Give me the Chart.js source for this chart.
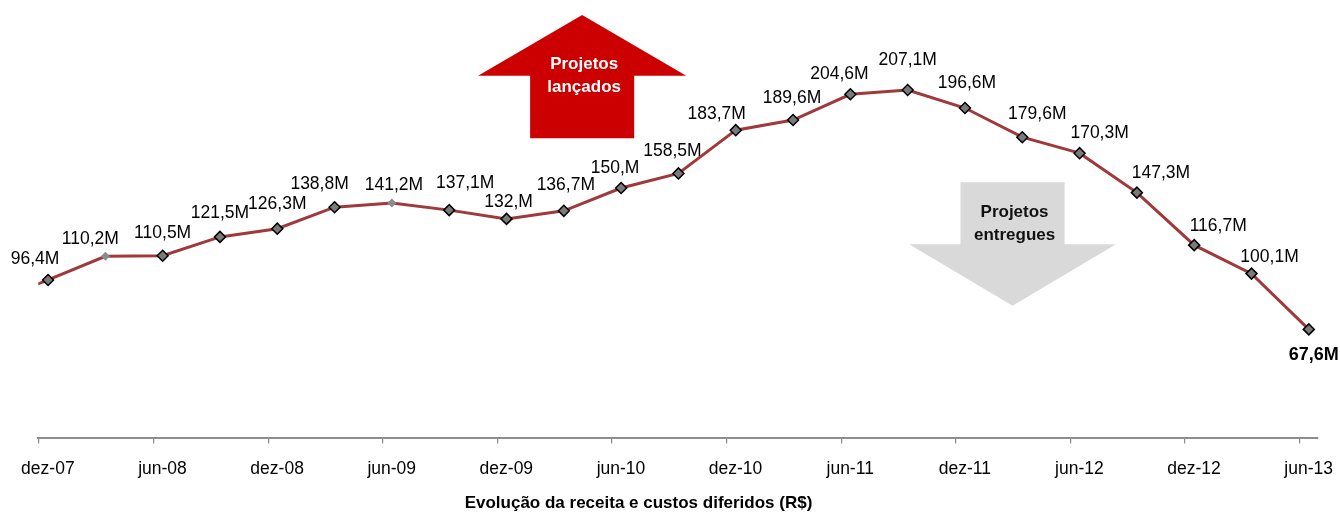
<!DOCTYPE html>
<html>
<head>
<meta charset="utf-8">
<script src="https://cdn.jsdelivr.net/npm/chart.js@4.4.1/dist/chart.umd.min.js"></script>
<style>
    html, body { margin: 0; padding: 0; background: #fff; }
    #wrap { width: 1340px; height: 519px; position: relative; }
</style>
</head>
<body>
<div id="wrap"><canvas id="receitaChart"></canvas></div>
<script>
// quarterly closing of deferred revenue (R$ millions); first entry only feeds the lead-in segment
const quarters = ['set-07', 'dez-07', 'mar-08', 'jun-08', 'set-08', 'dez-08', 'mar-09', 'jun-09', 'set-09', 'dez-09',
    'mar-10', 'jun-10', 'set-10', 'dez-10', 'mar-11', 'jun-11', 'set-11', 'dez-11', 'mar-12', 'jun-12',
    'set-12', 'dez-12', 'mar-13', 'jun-13'];
const receita = [83, 96.4, 110.2, 110.5, 121.5, 126.3, 138.8, 141.2, 137.1, 132, 136.7, 150, 158.5,
    183.7, 189.6, 204.6, 207.1, 196.6, 179.6, 170.3, 147.3, 116.7, 100.1, 67.6];
const tickLabels = ['dez-07', 'jun-08', 'dez-08', 'jun-09', 'dez-09', 'jun-10', 'dez-10', 'jun-11',
    'dez-11', 'jun-12', 'dez-12', 'jun-13'];

// hand placed label nudges (px) and markers drawn without outline
const labelNudge = [null, [-13, -21], [-15, -17], [0, -23], [0, -24], [0, -24], [-15, -23], [2, -18],
    [16, -27], [2, -17], [2, -26], [-6, -20], [-6, -22], [-19, -16], [-1, -22], [-11, -20], [0, -30],
    [2, -25], [15, -23], [20, -20], [24, -19], [24, -19], [18, -16], [5, 26]];
const plainMarkers = [2, 7];
const boldLabels = [23];

const FONT = 'Arial, "Liberation Sans", sans-serif';

function fmtM(v) {
    // 150 -> "150,M", 96.4 -> "96,4M"
    return Number.isInteger(v) ? v + ',M' : String(v).replace('.', ',') + 'M';
}

/**
 * block arrow, geometry given in axis units (x: quarter index, y: R$ M)
 */
function drawArrow(chart, a) {
    const {ctx, scales: {x, y}} = chart;
    const cx = x.getPixelForValue(a.x);
    const unit = x.getPixelForValue(1) - x.getPixelForValue(0);
    const head = a.head * unit, shaft = a.shaft * unit;
    const tip = y.getPixelForValue(a.tip);
    const base = y.getPixelForValue(a.base);
    const tail = y.getPixelForValue(a.tail);
    ctx.save();
    ctx.fillStyle = a.color;
    ctx.beginPath();
    ctx.moveTo(cx, tip);
    ctx.lineTo(cx + head, base);
    ctx.lineTo(cx + shaft, base);
    ctx.lineTo(cx + shaft, tail);
    ctx.lineTo(cx - shaft, tail);
    ctx.lineTo(cx - shaft, base);
    ctx.lineTo(cx - head, base);
    ctx.closePath();
    ctx.fill();
    ctx.fillStyle = a.textColor;
    ctx.font = 'bold 17px ' + FONT;
    ctx.textAlign = 'center';
    ctx.textBaseline = 'middle';
    a.lines.forEach((t, i) => ctx.fillText(t, cx + 2, base + a.textDy[i]));
    ctx.restore();
}

const arrows = [
    {x: 10.32, tip: 250.8, base: 215.4, tail: 179.0, head: 1.816, shaft: 0.908, color: '#CC0000',
        textColor: '#ffffff', lines: ['Projetos', 'lançados'], textDy: [-11, 12]},
    {x: 17.83, tip: 81.4, base: 117.2, tail: 153.3, head: 1.805, shaft: 0.908, color: '#D9D9D9',
        textColor: '#111111', lines: ['Projetos', 'entregues'], textDy: [-32, -9]}
];

const decorations = {
    id: 'decorations',
    beforeDatasetsDraw(chart) {
        arrows.forEach(a => drawArrow(chart, a));
    },
    afterDatasetsDraw(chart) {
        const {ctx} = chart;
        const meta = chart.getDatasetMeta(0);
        ctx.save();
        ctx.fillStyle = '#000';
        ctx.textAlign = 'center';
        ctx.textBaseline = 'middle';
        meta.data.forEach((pt, i) => {
            if (!labelNudge[i]) return;
            ctx.font = (boldLabels.includes(i) ? 'bold 18px ' : '17.5px ') + FONT;
            ctx.fillText(fmtM(receita[i]), pt.x + labelNudge[i][0], pt.y + labelNudge[i][1]);
        });
        ctx.restore();
    },
    afterDraw(chart) {
        const {ctx} = chart;
        ctx.save();
        ctx.fillStyle = '#000';
        ctx.font = 'bold 17px ' + FONT;
        ctx.textAlign = 'center';
        ctx.textBaseline = 'alphabetic';
        ctx.fillText('Evolução da receita e custos diferidos (R$)', 638.5, 508);
        ctx.restore();
    }
};

function initializeChart() {
    const canvas = document.querySelector('#receitaChart');
    new Chart(canvas, {
        type: 'line',
        data: {
            datasets: [{
                label: 'Receita diferida',
                data: receita.map((v, i) => ({x: i, y: v})),
                borderColor: '#A0393B',
                borderWidth: 3,
                tension: 0,
                pointStyle: 'rectRot',
                pointRadius: ctx => ctx.dataIndex === 0 ? 0 : (plainMarkers.includes(ctx.dataIndex) ? 4.5 : 5.5),
                pointBackgroundColor: ctx => plainMarkers.includes(ctx.dataIndex) ? '#8c8c8c' : '#7a7a7a',
                pointBorderColor: '#000',
                pointBorderWidth: ctx => plainMarkers.includes(ctx.dataIndex) ? 0 : 1.5
            }]
        },
        options: {
            responsive: true,
            maintainAspectRatio: false,
            animation: false,
            layout: {
                padding: {top: 16.4, left: 38.3, right: 22, bottom: 0}
            },
            scales: {
                x: {
                    type: 'linear',
                    min: 0.83,
                    max: 23.16,
                    afterBuildTicks: axis => {
                        axis.ticks = tickLabels.map((t, k) => ({value: 2 * k + 0.84}));
                    },
                    afterFit: axis => {
                        // labels are shifted by labelOffset, so the side padding guessed by the scale is not needed
                        axis.height = 81.5;
                        axis.paddingLeft = 0;
                        axis.paddingRight = 0;
                    },
                    ticks: {
                        autoSkip: false,
                        maxRotation: 0,
                        padding: 15,
                        labelOffset: 9,
                        color: '#000',
                        font: {family: FONT, size: 17.5},
                        callback: (value, index) => tickLabels[index]
                    },
                    grid: {
                        drawOnChartArea: false,
                        drawTicks: true,
                        tickLength: 6,
                        color: '#8c8c8c',
                        lineWidth: 1.2
                    },
                    border: {
                        display: true,
                        color: '#8c8c8c',
                        width: 2
                    }
                },
                y: {
                    display: false,
                    min: 4.6,
                    max: 250
                }
            },
            plugins: {
                legend: {display: false},
                tooltip: {enabled: false}
            }
        },
        plugins: [decorations]
    });
}

document.addEventListener('DOMContentLoaded', () => {
    initializeChart();
});
</script>
</body>
</html>
